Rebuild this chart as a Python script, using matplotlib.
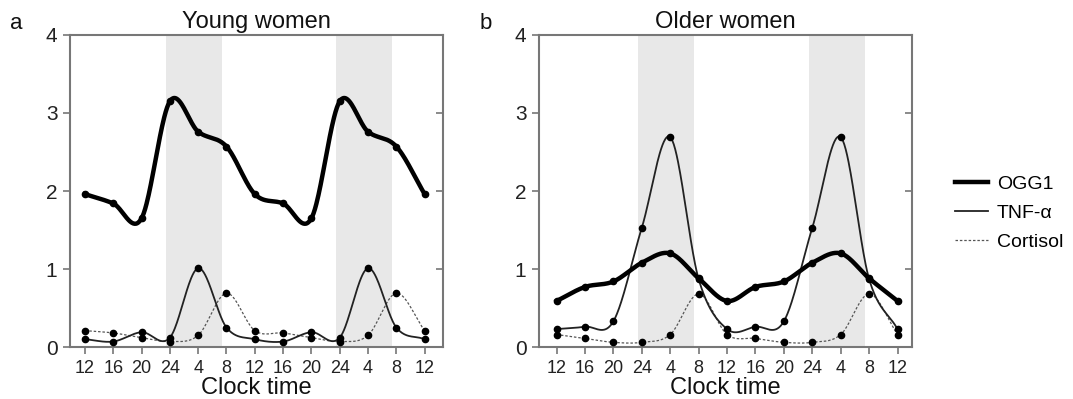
import numpy as np
import matplotlib
matplotlib.use("Agg")
import matplotlib.pyplot as plt
from matplotlib.lines import Line2D

plt.rcParams['font.family'] = ['Liberation Sans', 'DejaVu Sans']

clock = ['12', '16', '20', '24', '4', '8', '12', '16', '20', '24', '4', '8', '12']

# young women
young_ogg1 = [1.96, 1.84, 1.65, 3.15, 2.76, 2.57, 1.96, 1.84, 1.65, 3.15, 2.76, 2.57, 1.96]
young_tnf = [0.10, 0.07, 0.19, 0.12, 1.01, 0.25, 0.10, 0.07, 0.19, 0.12, 1.01, 0.25, 0.10]
young_cort = [0.21, 0.18, 0.12, 0.07, 0.15, 0.69, 0.21, 0.18, 0.12, 0.07, 0.15, 0.69, 0.21]

# older women
old_ogg1 = [0.59, 0.77, 0.84, 1.08, 1.20, 0.88, 0.59, 0.77, 0.84, 1.08, 1.20, 0.88, 0.59]
old_tnf = [0.23, 0.26, 0.33, 1.53, 2.69, 0.87, 0.23, 0.26, 0.33, 1.53, 2.69, 0.87, 0.23]
old_cort = [0.16, 0.11, 0.06, 0.06, 0.16, 0.68, 0.16, 0.11, 0.06, 0.06, 0.16, 0.68, 0.16]

night = [(2.88, 4.84), (8.88, 10.84)]


def smooth(x, y, n=40):
    # catmull-rom curve through the points, only for drawing
    x = np.asarray(x, float)
    y = np.asarray(y, float)
    m = np.gradient(y, x)
    xs, ys = [], []
    for i in range(len(x) - 1):
        h = x[i + 1] - x[i]
        t = np.linspace(0, 1, n, endpoint=(i == len(x) - 2))
        h00 = 2 * t**3 - 3 * t**2 + 1
        h10 = t**3 - 2 * t**2 + t
        h01 = -2 * t**3 + 3 * t**2
        h11 = t**3 - t**2
        xs.append(x[i] + t * h)
        ys.append(h00 * y[i] + h10 * h * m[i] + h01 * y[i + 1] + h11 * h * m[i + 1])
    return np.concatenate(xs), np.concatenate(ys)


fig = plt.figure(figsize=(10.73, 3.99), dpi=100)
ax_a = fig.add_axes([0.0652, 0.1303, 0.3477, 0.782])
ax_b = fig.add_axes([0.5023, 0.1303, 0.3477, 0.782])

panels = [
    (ax_a, 'a', 'Young women', young_ogg1, young_tnf, young_cort, (-0.53, 12.65)),
    (ax_b, 'b', 'Older women', old_ogg1, old_tnf, old_cort, (-0.62, 12.51)),
]

frame = '#777777'
x = np.arange(len(clock))

for ax, letter, title, ogg, tnf, cort, xl in panels:
    for a, b in night:
        ax.axvspan(a, b, color='#e8e8e8', lw=0, zorder=0)

    xs, ys = smooth(x, cort)
    ax.plot(xs, ys, color='#555555', lw=0.9, ls=(0, (2, 1.5)), zorder=2)
    ax.plot(x, cort, 'o', color='black', ms=4.5, zorder=3)

    xs, ys = smooth(x, tnf)
    ax.plot(xs, ys, color='#222222', lw=1.3, zorder=2)
    ax.plot(x, tnf, 'o', color='black', ms=4.5, zorder=3)

    xs, ys = smooth(x, ogg)
    ax.plot(xs, ys, color='black', lw=3.2, zorder=4)
    ax.plot(x, ogg, 'o', color='black', ms=4.5, zorder=4)

    ax.set_xlim(*xl)
    ax.set_ylim(0, 4)
    ax.set_xticks(x)
    ax.set_xticklabels(clock, fontsize=13, color='#222222')
    ax.set_yticks([0, 1, 2, 3, 4])
    ax.set_yticklabels(['0', '1', '2', '3', '4'], fontsize=15, color='#222222')
    ax.tick_params(axis='both', direction='out', length=5, width=1.2, color=frame, pad=4)
    for s in ax.spines.values():
        s.set_color(frame)
        s.set_linewidth(1.5)

    tw = ax.twinx()
    tw.set_ylim(0, 4)
    tw.set_yticks([0, 1, 2, 3, 4])
    tw.set_yticklabels([])
    tw.tick_params(axis='y', direction='in', length=5, width=1.2, color=frame)
    for s in tw.spines.values():
        s.set_visible(False)

    ax.set_title(title, fontsize=17, pad=5, color='#111111')
    ax.set_xlabel('Clock time', fontsize=17, labelpad=0, color='#111111')
    ax.text(-0.16, 1.02, letter, transform=ax.transAxes, fontsize=16, color='#111111')

handles = [
    Line2D([], [], color='black', lw=3.2),
    Line2D([], [], color='#222222', lw=1.3),
    Line2D([], [], color='#555555', lw=0.9, ls=(0, (2, 1.5))),
]
fig.legend(handles, ['OGG1', 'TNF-\u03b1', 'Cortisol'], loc='center left',
           bbox_to_anchor=(0.89, 0.466), frameon=False, fontsize=14,
           handlelength=1.7, handletextpad=0.45, labelspacing=0.6,
           borderpad=0, borderaxespad=0)

fig.savefig('out.png', dpi=100)
